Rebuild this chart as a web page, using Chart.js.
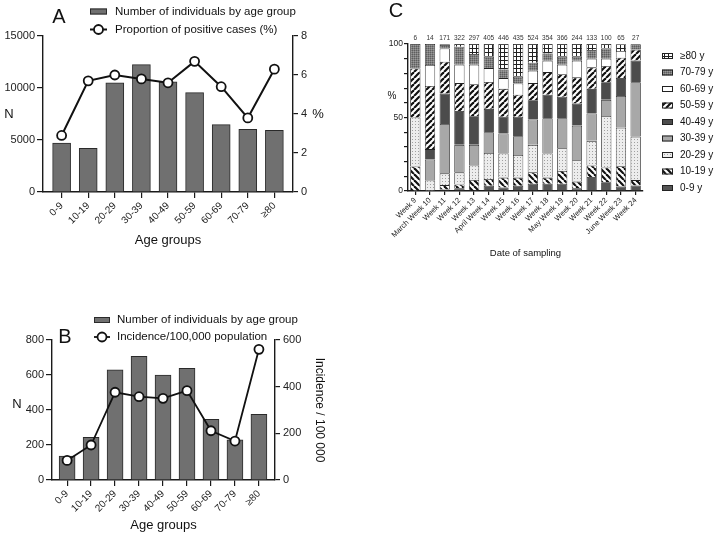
<!DOCTYPE html>
<html>
<head>
<meta charset="utf-8">
<script src="https://cdn.jsdelivr.net/npm/chart.js@4.4.0/dist/chart.umd.min.js"></script>
<style>
body{margin:0;background:#fff;width:719px;height:534px;overflow:hidden;position:relative}
canvas{position:absolute}
#chartA{left:0;top:0}
#chartB{left:0;top:270px}
#chartC{left:360px;top:0}
</style>
</head>
<body>
<canvas id="chartA" width="340" height="260"></canvas>
<canvas id="chartB" width="340" height="264"></canvas>
<canvas id="chartC" width="359" height="270"></canvas>
<script>
// panels A and B
var ageGroups = ['0-9','10-19','20-29','30-39','40-49','50-59','60-69','70-79','≥80'];
var testedByAge = [4700, 4200, 10500, 12250, 10600, 9550, 6480, 6030, 5920];
var positiveRate = [2.9, 5.7, 6.0, 5.8, 5.6, 6.7, 5.4, 3.8, 6.3];
var casesByAge = [137, 244, 629, 707, 600, 638, 347, 229, 375];
var incidence = [84, 150, 376, 357, 350, 383, 211, 167, 560];

// panel C
var weeks = ['Week 9','March Week 10','Week 11','Week 12','Week 13','April Week 14','Week 15','Week 16',
  'Week 17','Week 18','May Week 19','Week 20','Week 21','Week 22','June Week 23','Week 24'];
var weekCounts = [6, 14, 171, 322, 297, 405, 446, 435, 524, 354, 366, 244, 133, 100, 65, 27];
var bandNames = ['0-9 y','10-19 y','20-29 y','30-39 y','40-49 y','50-59 y','60-69 y','70-79 y','≥80 y'];
var pct0to9   = [0, 0, 1, 1.8, 0.5, 3.6, 2.3, 3.6, 5, 5, 5, 1.8, 9.5, 6, 3.1, 3.7];
var pct10to19 = [16.7, 0, 3, 2.7, 7, 4.6, 6.8, 5.5, 7.7, 4.1, 8.6, 4.6, 7.8, 10, 13.8, 3.7];
var pct20to29 = [33.3, 7.1, 8, 8.2, 9.8, 17.7, 16.4, 15.4, 18.7, 16.4, 15.5, 14.5, 16.8, 35, 26.2, 29.6];
var pct30to39 = [0, 14.3, 33.6, 18.7, 14.1, 14.1, 13.6, 12.8, 17.2, 24, 20.4, 23.6, 18.6, 11, 21.5, 37];
var pct40to49 = [0, 7.1, 20.7, 23.1, 19.5, 15.9, 11.4, 13.2, 13.2, 16, 14.6, 15, 16.8, 12, 12.3, 14.8];
var pct50to59 = [33.3, 42.9, 21.6, 18.9, 21.8, 18.2, 19, 15, 11.6, 15.4, 15.4, 17.8, 14.6, 11, 13.8, 7.4];
var pct60to69 = [0, 14.3, 9.1, 12.5, 13.2, 9.5, 7.3, 7.7, 8.4, 7.7, 6.4, 11.3, 5.9, 5, 4.6, 0];
var pct70to79 = [16.7, 14.3, 2.3, 12.3, 7.3, 7.8, 5.9, 4.5, 5.5, 5, 5.5, 2.8, 5.9, 7, 0, 3.7];
var pct80plus = [0, 0, 0.5, 1.8, 6.8, 8.6, 17.3, 22.3, 12.7, 6.4, 8.6, 8.6, 4.1, 3, 4.6, 0];

var FONT = '"Liberation Sans", Arial, sans-serif';
Chart.defaults.font.family = FONT;
Chart.defaults.color = '#222';

function font(px){ return px + 'px ' + FONT; }
function plain(v){ return String(v); }
function axisLine(){ return {color:'#1a1a1a', width:1.4}; }
function tickGrid(len){ return {drawOnChartArea:false, drawTicks:true, tickLength:len, color:'#1a1a1a', lineWidth:1.2, offset:false}; }
function points(arr){ return arr.map(function(v, i){ return {x:i, y:v}; }); }

// extra texts, custom legends and counts drawn on the canvas
var overlay = {
  id:'overlay',
  afterDraw:function(chart, args, o){
    var ctx = chart.ctx;
    ctx.save();
    ctx.textBaseline = 'middle';
    ctx.fillStyle = '#111';
    (o.texts || []).forEach(function(t){
      ctx.font = t.font;
      ctx.textAlign = 'center';
      ctx.fillText(t.text, t.x, t.y);
    });
    if (o.legend) {
      var L = o.legend;
      var sets = chart.data.datasets.slice();
      if (L.reverse) sets.reverse();
      sets.forEach(function(ds, i){
        var y = L.y + i * L.dy;
        if (ds.type === 'line') {
          ctx.strokeStyle = ds.borderColor;
          ctx.lineWidth = ds.borderWidth;
          ctx.beginPath(); ctx.moveTo(L.x, y); ctx.lineTo(L.x + L.w, y); ctx.stroke();
          ctx.beginPath(); ctx.arc(L.x + L.w / 2, y, ds.pointRadius, 0, 2 * Math.PI);
          ctx.fillStyle = ds.pointBackgroundColor; ctx.fill();
          ctx.lineWidth = ds.pointBorderWidth; ctx.stroke();
        } else {
          ctx.fillStyle = ds.backgroundColor;
          ctx.fillRect(L.x, y - L.h / 2, L.w, L.h);
          ctx.strokeStyle = ds.borderColor;
          ctx.lineWidth = 1;
          ctx.strokeRect(L.x + 0.5, y - L.h / 2 + 0.5, L.w - 1, L.h - 1);
        }
        ctx.fillStyle = '#111';
        ctx.font = L.font;
        ctx.textAlign = 'left';
        ctx.fillText(ds.label, L.x + L.w + L.gap, y);
      });
    }
    if (o.counts) {
      var xs = chart.scales.x;
      ctx.font = o.counts.font;
      ctx.textAlign = 'center';
      ctx.fillStyle = '#333';
      o.counts.values.forEach(function(n, i){
        ctx.fillText(String(n), xs.getPixelForValue(i), chart.chartArea.top - o.counts.gap);
      });
    }
    ctx.restore();
  }
};

function ageAxis(min, max, height, titlePad){
  return {
    type:'linear', min:min, max:max, bounds:'data', offset:false,
    afterBuildTicks:function(s){ s.ticks = ageGroups.map(function(g, i){ return {value:i}; }); },
    ticks:{callback:function(v){ return ageGroups[v]; }, autoSkip:false, maxRotation:45, minRotation:45,
      font:{size:10}, color:'#222', padding:2},
    grid:tickGrid(6), border:axisLine(),
    title:{display:true, text:'Age groups', font:{size:13}, color:'#111', padding:{top:0, bottom:titlePad}},
    afterFit:function(s){ s.height = height; }
  };
}

// ---- A ----
new Chart(document.getElementById('chartA'), {
  type:'bar',
  data:{
    datasets:[{
      label:'Number of individuals by age group',
      data:points(testedByAge),
      backgroundColor:'#707070', borderColor:'#2a2a2a', borderWidth:1,
      barThickness:18, yAxisID:'y', order:1
    },{
      type:'line',
      label:'Proportion of positive cases (%)',
      data:points(positiveRate),
      borderColor:'#111', borderWidth:2,
      pointRadius:4.5, pointBackgroundColor:'#fff', pointBorderColor:'#111', pointBorderWidth:1.8,
      yAxisID:'y1', order:0, clip:false
    }]
  },
  options:{
    responsive:false, animation:false, events:[],
    layout:{padding:{top:36, left:0, right:0, bottom:0}},
    plugins:{
      legend:{display:false}, tooltip:{enabled:false},
      overlay:{
        texts:[
          {text:'A', x:59, y:17, font:font(20)},
          {text:'N', x:9, y:114, font:font(13)},
          {text:'%', x:318, y:114, font:font(13)}
        ],
        legend:{x:90, y:11.5, dy:18, w:17, h:6, gap:8, font:font(11.5)}
      }
    },
    scales:{
      x:ageAxis(-0.7, 8.7, 68, 12),
      y:{position:'left', min:0, max:15000,
        ticks:{stepSize:5000, callback:plain, font:{size:11}, color:'#222', padding:2},
        grid:tickGrid(6), border:axisLine(),
        afterFit:function(s){ s.width = 43; }},
      y1:{position:'right', min:0, max:8,
        ticks:{stepSize:2, callback:plain, font:{size:11}, color:'#222', padding:3},
        grid:tickGrid(5), border:axisLine(),
        afterFit:function(s){ s.width = 47; }}
    }
  },
  plugins:[overlay]
});

// ---- B ----
new Chart(document.getElementById('chartB'), {
  type:'bar',
  data:{
    datasets:[{
      label:'Number of individuals by age group',
      data:points(casesByAge),
      backgroundColor:'#707070', borderColor:'#2a2a2a', borderWidth:1,
      barThickness:16, yAxisID:'y', order:1
    },{
      type:'line',
      label:'Incidence/100,000 population',
      data:points(incidence),
      borderColor:'#111', borderWidth:1.8,
      pointRadius:4.5, pointBackgroundColor:'#fff', pointBorderColor:'#111', pointBorderWidth:1.8,
      yAxisID:'y1', order:0, clip:false
    }]
  },
  options:{
    responsive:false, animation:false, events:[],
    layout:{padding:{top:70, left:0, right:0, bottom:0}},
    plugins:{
      legend:{display:false}, tooltip:{enabled:false},
      overlay:{
        texts:[
          {text:'B', x:65, y:67, font:font(20)},
          {text:'N', x:17, y:134, font:font(13)}
        ],
        legend:{x:94, y:50, dy:17, w:16, h:6, gap:7, font:font(11.5)}
      }
    },
    scales:{
      x:ageAxis(-0.63, 8.67, 54, 1),
      y:{position:'left', min:0, max:800,
        ticks:{stepSize:200, callback:plain, font:{size:11}, color:'#222', padding:2},
        grid:tickGrid(6), border:axisLine(),
        afterFit:function(s){ s.width = 52; }},
      y1:{position:'right', min:0, max:600,
        ticks:{stepSize:200, callback:plain, font:{size:11}, color:'#222', padding:3},
        grid:tickGrid(5), border:axisLine(),
        title:{display:true, text:'Incidence / 100 000', font:{size:12}, color:'#111', padding:{top:13, bottom:0}},
        afterFit:function(s){ s.width = 65; }}
    }
  },
  plugins:[overlay]
});

// ---- C ----
function makePattern(size, draw){
  var c = document.createElement('canvas');
  c.width = size; c.height = size;
  var g = c.getContext('2d');
  draw(g, size);
  return g.createPattern(c, 'repeat');
}
function hatch(dir){
  return makePattern(6, function(g, s){
    g.fillStyle = '#fff'; g.fillRect(0, 0, s, s);
    g.strokeStyle = '#111'; g.lineWidth = 2.2;
    [-s, 0, s].forEach(function(k){
      g.beginPath();
      if (dir > 0) { g.moveTo(k, s); g.lineTo(k + s, 0); }
      else { g.moveTo(k, 0); g.lineTo(k + s, s); }
      g.stroke();
    });
  });
}
var fills = [
  '#555555',
  hatch(-1),
  makePattern(3, function(g, s){ g.fillStyle = '#ededed'; g.fillRect(0, 0, s, s); g.fillStyle = '#a0a0a0'; g.fillRect(1, 1, 1, 1); }),
  '#a8a8a8',
  '#4c4c4c',
  hatch(1),
  '#ffffff',
  makePattern(2, function(g, s){ g.fillStyle = '#7e7e7e'; g.fillRect(0, 0, s, s); g.fillStyle = '#5e5e5e'; g.fillRect(0, 0, 1, 1); g.fillStyle = '#9a9a9a'; g.fillRect(1, 1, 1, 1); }),
  makePattern(4, function(g, s){ g.fillStyle = '#fff'; g.fillRect(0, 0, s, s); g.fillStyle = '#222'; g.fillRect(0, 0, s, 1); g.fillRect(0, 0, 1, s); })
];
var bandValues = [pct0to9, pct10to19, pct20to29, pct30to39, pct40to49, pct50to59, pct60to69, pct70to79, pct80plus];

new Chart(document.getElementById('chartC'), {
  type:'bar',
  data:{
    labels:weeks,
    datasets:bandNames.map(function(name, i){
      return {label:name, data:bandValues[i], backgroundColor:fills[i], borderColor:'#222', borderWidth:0.8,
        barPercentage:0.7, categoryPercentage:1};
    })
  },
  options:{
    responsive:false, animation:false, events:[],
    layout:{padding:{top:44, left:0, right:76, bottom:0}},
    plugins:{
      legend:{display:false}, tooltip:{enabled:false},
      overlay:{
        texts:[
          {text:'C', x:36, y:11, font:font(20)},
          {text:'%', x:32, y:96, font:font(10)}
        ],
        legend:{x:302, y:56, dy:16.5, w:11, h:6, gap:7, font:font(10), reverse:true},
        counts:{values:weekCounts, gap:6, font:font(6.5)}
      }
    },
    scales:{
      x:{stacked:true,
        ticks:{autoSkip:false, maxRotation:45, minRotation:45, font:{size:7.5}, color:'#222', padding:1},
        grid:tickGrid(4), border:axisLine(),
        title:{display:true, text:'Date of sampling', font:{size:9.5}, color:'#111', padding:{top:0, bottom:11}},
        afterFit:function(s){ s.height = 79; }},
      y:{stacked:true, min:0, max:100,
        afterBuildTicks:function(s){ var t = []; for (var v = 0; v <= 100; v += 5) t.push({value:v}); s.ticks = t; },
        ticks:{callback:function(v){ return v % 50 === 0 ? v : ''; }, font:{size:8.5}, color:'#222', padding:1},
        grid:tickGrid(4), border:axisLine(),
        afterFit:function(s){ s.width = 48; }}
    }
  },
  plugins:[overlay]
});
</script>
</body>
</html>
